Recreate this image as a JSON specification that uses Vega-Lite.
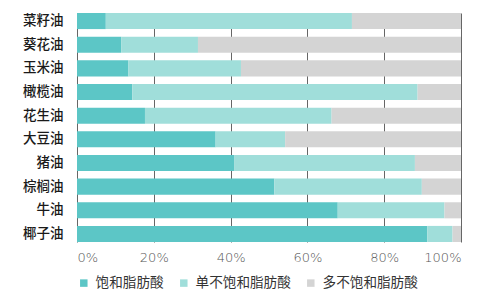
{
  "$schema": "https://vega.github.io/schema/vega-lite/v6.json",
  "width": 384,
  "height": 229,
  "autosize": {"type": "none"},
  "padding": {"left": 77, "top": 13, "right": 19, "bottom": 57},
  "background": "white",
  "config": {
    "view": {"stroke": null},
    "font": "Noto Sans CJK SC"
  },
  "data": {
    "values": [
      {"oil": "菜籽油", "type": "饱和脂肪酸", "v": 7.5},
      {"oil": "菜籽油", "type": "单不饱和脂肪酸", "v": 64.1},
      {"oil": "菜籽油", "type": "多不饱和脂肪酸", "v": 28.4},
      {"oil": "葵花油", "type": "饱和脂肪酸", "v": 11.5},
      {"oil": "葵花油", "type": "单不饱和脂肪酸", "v": 20.0},
      {"oil": "葵花油", "type": "多不饱和脂肪酸", "v": 68.5},
      {"oil": "玉米油", "type": "饱和脂肪酸", "v": 13.4},
      {"oil": "玉米油", "type": "单不饱和脂肪酸", "v": 29.3},
      {"oil": "玉米油", "type": "多不饱和脂肪酸", "v": 57.3},
      {"oil": "橄榄油", "type": "饱和脂肪酸", "v": 14.4},
      {"oil": "橄榄油", "type": "单不饱和脂肪酸", "v": 74.3},
      {"oil": "橄榄油", "type": "多不饱和脂肪酸", "v": 11.3},
      {"oil": "花生油", "type": "饱和脂肪酸", "v": 17.7},
      {"oil": "花生油", "type": "单不饱和脂肪酸", "v": 48.6},
      {"oil": "花生油", "type": "多不饱和脂肪酸", "v": 33.7},
      {"oil": "大豆油", "type": "饱和脂肪酸", "v": 36.1},
      {"oil": "大豆油", "type": "单不饱和脂肪酸", "v": 18.1},
      {"oil": "大豆油", "type": "多不饱和脂肪酸", "v": 45.8},
      {"oil": "猪油", "type": "饱和脂肪酸", "v": 40.9},
      {"oil": "猪油", "type": "单不饱和脂肪酸", "v": 47.1},
      {"oil": "猪油", "type": "多不饱和脂肪酸", "v": 12.0},
      {"oil": "棕榈油", "type": "饱和脂肪酸", "v": 51.4},
      {"oil": "棕榈油", "type": "单不饱和脂肪酸", "v": 38.4},
      {"oil": "棕榈油", "type": "多不饱和脂肪酸", "v": 10.2},
      {"oil": "牛油", "type": "饱和脂肪酸", "v": 67.9},
      {"oil": "牛油", "type": "单不饱和脂肪酸", "v": 27.8},
      {"oil": "牛油", "type": "多不饱和脂肪酸", "v": 4.3},
      {"oil": "椰子油", "type": "饱和脂肪酸", "v": 91.2},
      {"oil": "椰子油", "type": "单不饱和脂肪酸", "v": 6.6},
      {"oil": "椰子油", "type": "多不饱和脂肪酸", "v": 2.2}
    ]
  },
  "transform": [
    {"calculate": "indexof(['饱和脂肪酸','单不饱和脂肪酸','多不饱和脂肪酸'], datum.type)", "as": "o"}
  ],
  "mark": {"type": "bar"},
  "encoding": {
    "y": {
      "field": "oil",
      "type": "nominal",
      "sort": null,
      "scale": {"paddingInner": 0.32, "paddingOuter": 0},
      "axis": {
        "title": null,
        "domain": false,
        "ticks": false,
        "grid": false,
        "labelPadding": 14,
        "labelFontSize": 13.5,
        "labelFontWeight": 500,
        "labelColor": "#1a1a1a",
        "labelFont": "Noto Sans CJK SC"
      }
    },
    "x": {
      "field": "v",
      "type": "quantitative",
      "stack": "normalize",
      "scale": {"domain": [0, 1], "nice": false},
      "axis": {
        "title": null,
        "format": ".0%",
        "values": [0, 0.2, 0.4, 0.6, 0.8, 1],
        "domain": false,
        "ticks": false,
        "grid": true,
        "gridColor": "#666666",
        "gridWidth": 1,
        "gridOpacity": 1,
        "labelPadding": 9,
        "labelFontSize": 13,
        "labelColor": "#555555",
        "labelFont": "DejaVu Sans",
        "labelFontWeight": 300
      }
    },
    "color": {
      "field": "type",
      "type": "nominal",
      "scale": {
        "domain": ["饱和脂肪酸", "单不饱和脂肪酸", "多不饱和脂肪酸"],
        "range": ["#5CC6C6", "#A0DEDA", "#D4D4D4"]
      },
      "legend": {
        "title": null,
        "orient": "none",
        "direction": "horizontal",
        "legendX": 0,
        "legendY": 263,
        "symbolType": "square",
        "symbolSize": 56,
        "symbolStrokeWidth": 0,
        "labelFontSize": 13.6,
        "labelColor": "#333333",
        "labelOffset": 5,
        "columnPadding": 13,
        "labelFont": "Noto Sans CJK SC"
      }
    },
    "order": {"field": "o", "type": "quantitative"}
  }
}
